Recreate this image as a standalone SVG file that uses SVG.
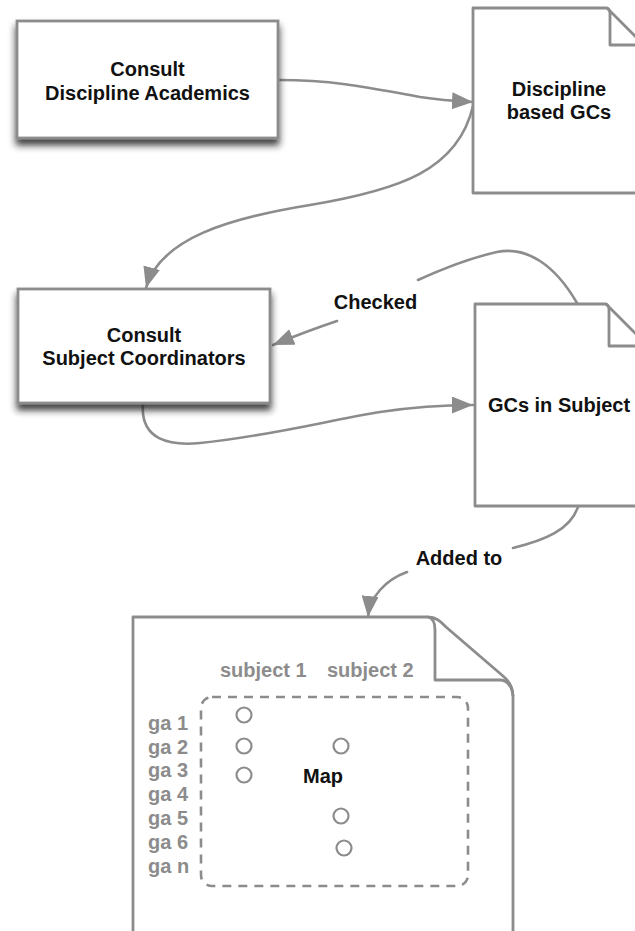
<svg xmlns="http://www.w3.org/2000/svg" width="635" height="931" viewBox="0 0 635 931">
  <defs>
    <style>
      .box { fill: #ffffff; stroke: #8c8c8c; stroke-width: 2.8; filter: url(#shadow); }
      .doc { fill: #ffffff; stroke: #8c8c8c; stroke-width: 2.8; stroke-linejoin: round; }
      .fold { fill: none; stroke: #8c8c8c; stroke-width: 2.8; stroke-linejoin: round; }
      .edge { fill: none; stroke: #8c8c8c; stroke-width: 2.6; stroke-linecap: round; }
      .lbl { font-family: "Liberation Sans", Arial, Helvetica, sans-serif; font-weight: bold; font-size: 20px; fill: #111111; text-anchor: middle; }
      .gray { font-family: "Liberation Sans", Arial, Helvetica, sans-serif; font-weight: bold; font-size: 20px; fill: #8c8c8c; }
      .dot { fill: none; stroke: #8c8c8c; stroke-width: 2.2; }
      .dash { fill: none; stroke: #8c8c8c; stroke-width: 2.6; stroke-dasharray: 9 7; }
    </style>
    <filter id="shadow" x="-10%" y="-10%" width="120%" height="135%">
      <feDropShadow dx="0" dy="6" stdDeviation="3.5" flood-color="#1a1a1a" flood-opacity="0.85"/>
    </filter>
    <marker id="arrow" markerUnits="userSpaceOnUse" markerWidth="24" markerHeight="20" refX="21" refY="8.5" orient="auto">
      <path d="M0,0 L21,8.5 L0,17 z" fill="#8c8c8c"/>
    </marker>
  </defs>

  <rect width="635" height="931" fill="#ffffff"/>

  <!-- connectors -->
  <g id="connectors">
    <path class="edge" marker-end="url(#arrow)" d="M279,80 C340,80 380,90 420,97 C440,100 455,101 473,102"/>
    <path class="edge" marker-end="url(#arrow)" d="M473,106 C458,170 400,190 310,205 C230,218 160,238 146,288"/>
    <path class="edge" marker-end="url(#arrow)" d="M577,303 C555,265 527,246 497,252 C470,258 440,270 418,280 M337,321 C310,330 290,338 273,345"/>
    <path class="edge" marker-end="url(#arrow)" d="M143,404 C140,440 170,446 200,443 C270,436 330,420 380,412 C420,406 445,405 473,405"/>
    <path class="edge" marker-end="url(#arrow)" d="M578,507 C570,530 545,540 513,548 M407,572 C385,580 370,597 368,617"/>
    <text class="lbl" x="375.5" y="309">Checked</text>
    <text class="lbl" x="459" y="565">Added to</text>
  </g>

  <!-- process boxes -->
  <g id="consult-discipline">
    <rect class="box" x="17" y="21" width="261" height="117"/>
    <text class="lbl" x="147.5" y="76">Consult</text>
    <text class="lbl" x="147.5" y="100">Discipline Academics</text>
  </g>

  <g id="consult-subject">
    <rect class="box" x="18" y="289" width="252" height="114"/>
    <text class="lbl" x="144" y="342">Consult</text>
    <text class="lbl" x="144" y="365">Subject Coordinators</text>
  </g>

  <!-- documents -->
  <g id="discipline-gcs">
    <path class="doc" d="M473,8 H607 L645,46 V193 H473 Z"/>
    <path class="fold" d="M607,8 C609,9 610,11 610,13 V45 H645"/>
    <text class="lbl" x="559" y="96">Discipline</text>
    <text class="lbl" x="559" y="119">based GCs</text>
  </g>

  <g id="gcs-in-subject">
    <path class="doc" d="M475,304 H606 L645,343 V506 H475 Z"/>
    <path class="fold" d="M606,304 C608,305 609,307 609,309 V346 H645"/>
    <text class="lbl" x="559" y="412">GCs in Subject</text>
  </g>

  <g id="map-doc">
    <path class="doc" d="M133,940 V617 H428 C436,617 440,621 446,627 L503,676 C509,681 513,688 513,696 V940"/>
    <path class="fold" d="M428,617 C433,618 435,622 435,630 V680 H500 C507,680 512,686 513,696"/>
    <text class="gray" x="220" y="677">subject 1</text>
    <text class="gray" x="327" y="677">subject 2</text>
    <rect class="dash" x="201" y="697" width="267" height="189" rx="11"/>
    <text class="gray" x="148" y="730">ga 1</text>
    <text class="gray" x="148" y="754">ga 2</text>
    <text class="gray" x="148" y="777">ga 3</text>
    <text class="gray" x="148" y="801">ga 4</text>
    <text class="gray" x="148" y="825">ga 5</text>
    <text class="gray" x="148" y="849">ga 6</text>
    <text class="gray" x="148" y="873">ga n</text>
    <circle class="dot" cx="244" cy="715" r="7.5"/>
    <circle class="dot" cx="244" cy="746" r="7.5"/>
    <circle class="dot" cx="244" cy="775" r="7.5"/>
    <circle class="dot" cx="341" cy="746" r="7.5"/>
    <circle class="dot" cx="341" cy="816" r="7.5"/>
    <circle class="dot" cx="344" cy="848" r="7.5"/>
    <text class="lbl" x="323" y="783">Map</text>
  </g>
</svg>
